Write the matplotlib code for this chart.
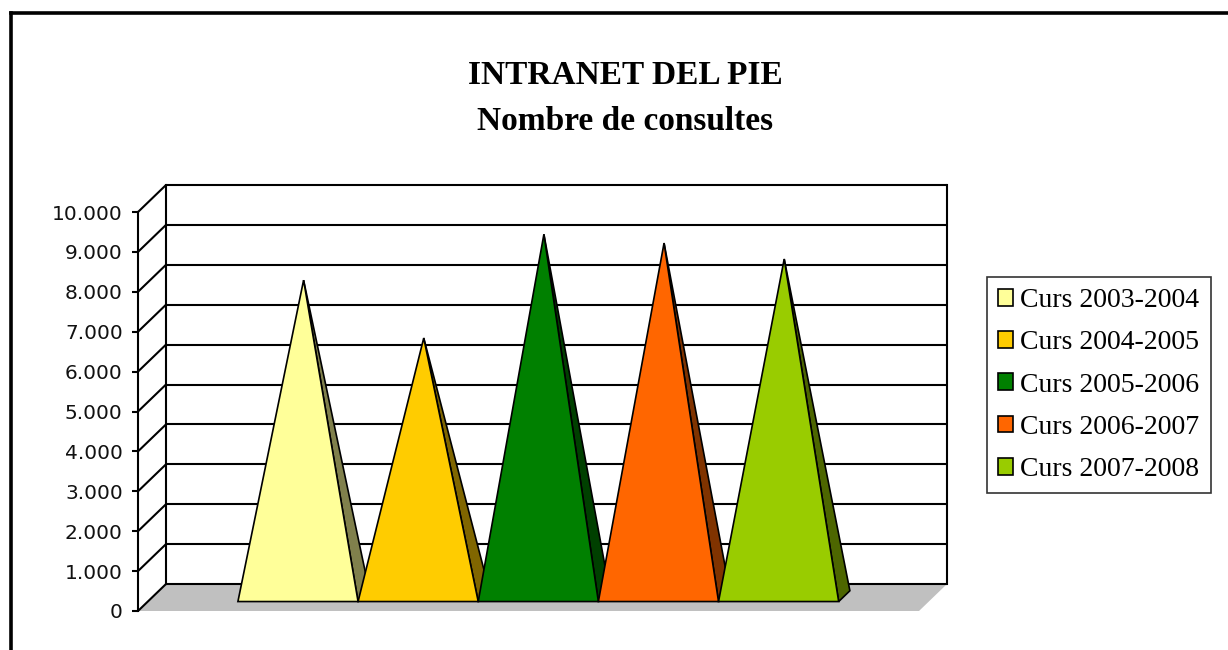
import matplotlib
matplotlib.use("Agg")
import matplotlib.pyplot as plt
from matplotlib.patches import Polygon, Patch
from matplotlib.lines import Line2D

# dades del gràfic
title_line1 = "INTRANET DEL PIE"
title_line2 = "Nombre de consultes"
series_names = ["Curs 2003-2004", "Curs 2004-2005", "Curs 2005-2006",
                "Curs 2006-2007", "Curs 2007-2008"]
consultes = [7920, 6470, 9070, 8850, 8450]
y_ticks = list(range(0, 10001, 1000))
face_colors = ["#FFFF99", "#FFCC00", "#008000", "#FF6600", "#99CC00"]
side_colors = ["#80804C", "#806600", "#004000", "#803300", "#4D6600"]

W, H = 1228, 650
fig = plt.figure(figsize=(W / 100, H / 100), dpi=100)
fig.patch.set_facecolor("white")

# marc exterior (retallat a dreta i a baix)
fig.add_artist(Line2D([11 / W, 11 / W], [0, 1 - 13 / H], color="black",
                      lw=2.6, transform=fig.transFigure))
fig.add_artist(Line2D([11 / W, 1], [1 - 13 / H, 1 - 13 / H], color="black",
                      lw=2.6, transform=fig.transFigure))

# pla frontal de l'eix
ax = fig.add_axes([138 / W, 39 / H, 781 / W, 399 / H])
ax.patch.set_alpha(0)
gap = 0.75  # gap width 150%
n = len(consultes)
xmax = n + 2 * gap
ax.set_xlim(0, xmax)
ax.set_ylim(0, 10000)
for s in ["top", "right", "bottom"]:
    ax.spines[s].set_visible(False)
ax.spines["left"].set_linewidth(1.5)
ax.set_xticks([])
ax.set_yticks(y_ticks)
ax.set_yticklabels([f"{v:,}".replace(",", ".") for v in y_ticks],
                   fontsize=14.5, family="DejaVu Sans", color="#111111")
ax.tick_params(axis="y", direction="out", length=4, width=1.5, pad=7)

# profunditat (oblic)
DX = 28 / (781 / xmax)
DY = 27 / (399 / 10000)

# terra
ax.add_patch(Polygon([(0, 0), (xmax, 0), (xmax + DX, DY), (DX, DY)],
                     closed=True, facecolor="#C0C0C0", edgecolor="none",
                     zorder=1, clip_on=False))

# quadrícula: paret lateral i paret del fons
for v in y_ticks:
    ax.plot([0, DX], [v, v + DY], color="black", lw=1.5, zorder=2,
            clip_on=False, solid_capstyle="butt")
    ax.plot([DX, xmax + DX], [v + DY, v + DY], color="black", lw=1.5,
            zorder=2, clip_on=False, solid_capstyle="butt")
ax.plot([DX, DX], [DY, 10000 + DY], color="black", lw=1.5, zorder=2,
        clip_on=False)
ax.plot([xmax + DX, xmax + DX], [DY, 10000 + DY], color="black", lw=1.5,
        zorder=2, clip_on=False)

# piràmides
f0, f1, fa = 0.35, 0.75, 0.55
for i, v in enumerate(consultes):
    xl = gap + i
    xr = xl + 1
    apex = (xl + 0.5 + fa * DX, v + fa * DY)
    side = Polygon([(xr + f0 * DX, f0 * DY), (xr + f1 * DX, f1 * DY), apex],
                   closed=True, facecolor=side_colors[i], edgecolor="black",
                   lw=1.2, zorder=3 + 2 * i, clip_on=False)
    front = Polygon([(xl + f0 * DX, f0 * DY), (xr + f0 * DX, f0 * DY), apex],
                    closed=True, facecolor=face_colors[i], edgecolor="black",
                    lw=1.2, zorder=4 + 2 * i, clip_on=False)
    ax.add_patch(side)
    ax.add_patch(front)

# títol
fig.text(625 / W, 1 - 84 / H, title_line1, ha="center", va="baseline",
         fontsize=24, fontweight="bold", family="Liberation Serif")
fig.text(625 / W, 1 - 130 / H, title_line2, ha="center", va="baseline",
         fontsize=24, fontweight="bold", family="Liberation Serif")

# llegenda
handles = [Patch(facecolor=c, edgecolor="black", lw=1.2) for c in face_colors]
leg = fig.legend(handles, series_names, loc="upper left",
                 bbox_to_anchor=(987 / W, 1 - 277 / H),
                 bbox_transform=fig.transFigure,
                 prop={"family": "Liberation Serif", "size": 20},
                 frameon=True, fancybox=False, shadow=False,
                 handlelength=0.55, handleheight=0.55, handletextpad=0.25,
                 labelspacing=0.62, borderpad=0.4, borderaxespad=0)
leg.get_frame().set_edgecolor("black")
leg.get_frame().set_linewidth(1.2)

fig.savefig("out.png", dpi=100)
